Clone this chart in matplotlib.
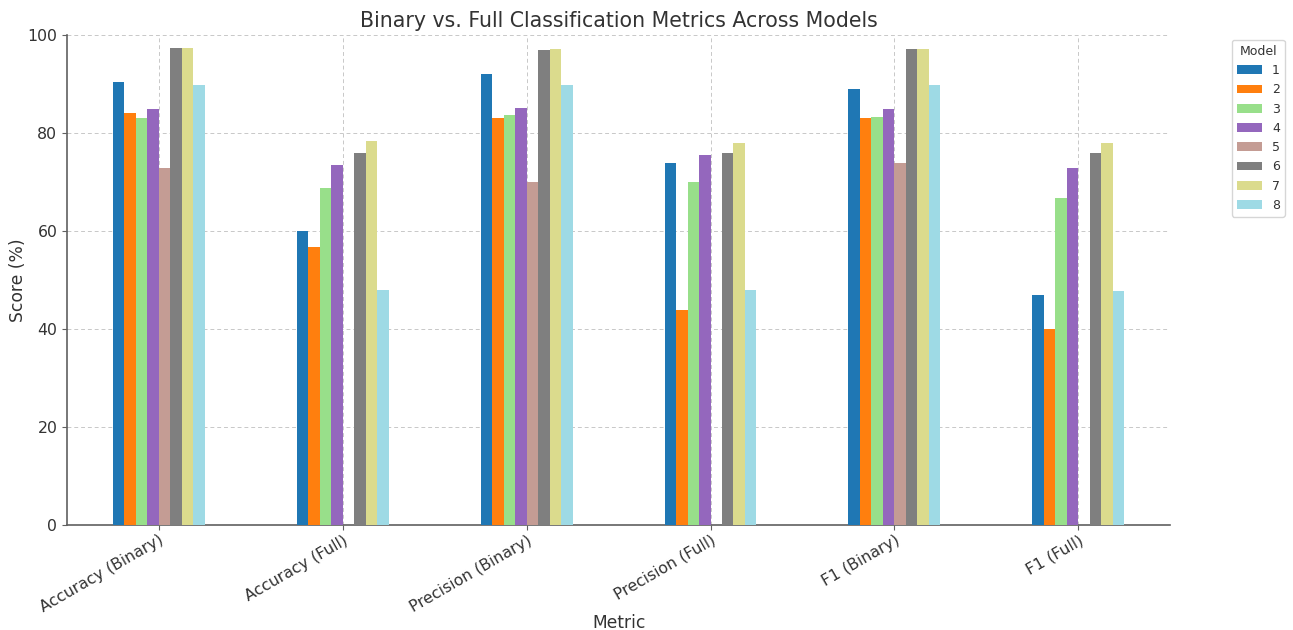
import numpy as np
import pandas as pd
import matplotlib
matplotlib.use("Agg")
import matplotlib.pyplot as plt

# metrics on the x axis
metrics = ["Accuracy (Binary)", "Accuracy (Full)", "Precision (Binary)",
           "Precision (Full)", "F1 (Binary)", "F1 (Full)"]

# one list per model, in metric order (nan = no value reported)
model_1 = [90.4, 60.0, 92.0, 73.9, 89.0, 46.9]
model_2 = [84.0, 56.8, 83.0, 43.9, 83.0, 39.9]
model_3 = [83.0, 68.8, 83.6, 70.0, 83.3, 66.7]
model_4 = [84.9, 73.5, 85.2, 75.5, 84.9, 72.8]
model_5 = [72.8, np.nan, 70.0, np.nan, 73.9, np.nan]
model_6 = [97.3, 76.0, 97.0, 76.0, 97.2, 76.0]
model_7 = [97.3, 78.4, 97.2, 77.9, 97.2, 77.9]
model_8 = [89.9, 48.0, 89.9, 48.0, 89.7, 47.8]

model_names = ["1", "2", "3", "4", "5", "6", "7", "8"]

text_color = "#333333"
plt.rcParams["font.family"] = "DejaVu Sans"
plt.rcParams["font.size"] = 11.3
plt.rcParams["text.color"] = text_color
plt.rcParams["axes.labelcolor"] = text_color
plt.rcParams["xtick.color"] = text_color
plt.rcParams["ytick.color"] = text_color

df = pd.DataFrame(
    {name: vals for name, vals in zip(model_names, [model_1, model_2, model_3, model_4,
                                                    model_5, model_6, model_7, model_8])},
    index=metrics)

fig = plt.figure(figsize=(12.93, 6.30), dpi=100)
ax = fig.add_axes([0.0518, 0.1667, 0.8532, 0.7777])

df.plot(kind="bar", ax=ax, colormap="tab20", width=0.5, zorder=3)

ax.set_ylim(0, 100)
ax.set_yticks(np.arange(0, 101, 20))
ax.set_xlim(-0.5, len(metrics) - 0.5)
ax.set_xticks(range(len(metrics)))
ax.set_xticklabels(metrics, rotation=30, ha="right", rotation_mode="anchor", fontsize=11.3)
ax.tick_params(axis="y", labelsize=11.3)
ax.tick_params(axis="x", pad=2)

ax.grid(True, linestyle=(0, (4, 3)), color="#c8c8c8", linewidth=0.7, zorder=0)
ax.set_axisbelow(True)

for side in ["top", "right"]:
    ax.spines[side].set_visible(False)
for side in ["left", "bottom"]:
    ax.spines[side].set_color("#606060")
    ax.spines[side].set_linewidth(1.2)
ax.tick_params(axis="both", colors="#606060", labelcolor=text_color)

ax.set_title("Binary vs. Full Classification Metrics Across Models", fontsize=14.8, pad=6)
ax.set_ylabel("Score (%)", fontsize=12.3)
ax.yaxis.set_label_coords(-0.036, 0.5)
ax.set_xlabel("Metric", fontsize=12.3)
ax.xaxis.set_label_coords(0.5, -0.182)

leg = ax.legend(title="Model", loc="upper left", bbox_to_anchor=(1.056, 0.99),
                borderaxespad=0, fontsize=9, title_fontsize=9, frameon=True)
leg.get_frame().set_edgecolor("#cccccc")

fig.savefig("out.png", dpi=100)
